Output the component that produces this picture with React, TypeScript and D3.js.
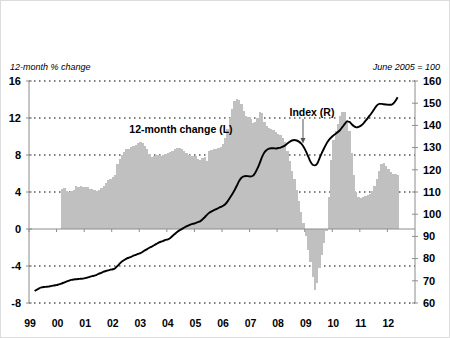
import React from "react";
import * as d3 from "d3";

// 12-month % change (left axis), monthly Mar 2000 .. May 2012
const changeStart = [2000, 2]; // year, month index
const changeValues = [
  4.3, 4.4, 4.1, 4.0, 4.1, 4.2, 4.6, 4.5, 4.6, 4.5,
  4.5, 4.5, 4.3, 4.3, 4.2, 4.1, 4.2, 4.4, 4.6, 5.0, 5.3, 5.4,
  5.6, 5.8, 7.0, 7.6, 8.0, 8.3, 8.6, 8.7, 8.9, 9.0, 9.1, 9.3,
  9.4, 9.3, 9.0, 8.6, 8.1, 7.8, 7.9, 8.0, 8.0, 7.9, 8.0, 8.1,
  8.2, 8.3, 8.4, 8.6, 8.8, 8.8, 8.6, 8.4, 8.2, 8.0, 7.9, 7.9,
  7.9, 7.6, 7.5, 7.7, 7.8, 7.4, 8.4, 8.5, 8.6, 8.7, 8.8, 8.9,
  9.2, 9.8, 10.8, 12.0, 13.0, 13.8, 14.1, 13.9, 13.5, 12.8, 12.2, 12.1,
  11.9, 11.5, 11.6, 12.0, 12.6, 12.5, 11.6, 11.1, 10.9, 10.8, 10.7, 10.5,
  10.3, 10.2, 9.8, 9.4, 8.4, 7.3, 6.3, 5.4, 4.2, 3.0, 1.8, 0.7,
  -0.8, -2.3, -3.6, -5.2, -6.6, -5.8, -4.2, -2.8, -1.5, -0.2, 3.5, 7.5,
  9.6, 10.6, 11.4, 12.2, 12.7, 12.6, 11.8, 10.6, 8.2, 5.8, 4.0, 3.5,
  3.4, 3.5, 3.6, 3.7, 3.8, 4.1, 4.6, 5.4, 6.3, 7.0, 7.1, 6.8,
  6.5, 6.2, 6.0, 5.9, 5.8,
];

// Index, June 2005 = 100 (right axis), monthly Mar 1999 .. May 2012
const indexStart = [1999, 2];
const indexValues = [
  65.4, 66.0, 66.6, 67.0, 67.2, 67.3, 67.4, 67.6, 67.8, 68.0,
  68.2, 68.5, 68.9, 69.3, 69.7, 70.1, 70.4, 70.6, 70.7, 70.8, 70.9, 71.0,
  71.2, 71.5, 71.8, 72.1, 72.3, 72.7, 73.2, 73.6, 74.1, 74.4, 74.7, 75.0,
  75.2, 75.7, 76.6, 77.7, 78.7, 79.4, 80.0, 80.4, 80.8, 81.3, 81.7, 82.1,
  82.5, 83.1, 83.7, 84.3, 84.9, 85.4, 86.0, 86.6, 87.2, 87.6, 88.0, 88.4,
  88.7, 89.3, 90.2, 91.1, 92.0, 92.7, 93.3, 93.9, 94.5, 95.0, 95.4, 95.7,
  96.0, 96.4, 96.8, 97.6, 98.6, 99.7, 100.6, 101.3, 101.8, 102.3, 102.8, 103.3,
  103.8, 104.6, 105.8, 107.4, 109.0, 110.8, 112.8, 115.0, 116.4, 117.0, 117.2, 117.1,
  117.0, 117.3, 118.6, 120.6, 123.0, 125.8, 127.8, 128.9, 129.5, 129.7, 129.7, 129.6,
  129.8, 130.0, 130.4, 131.0, 131.8, 132.6, 133.2, 133.4, 133.2, 132.7, 131.8, 130.4,
  128.4, 126.0, 123.8, 122.3, 122.0, 122.8, 125.2, 127.6, 129.8, 131.8, 133.4, 134.5,
  135.5, 136.2, 137.0, 138.0, 139.3, 140.7, 141.8, 141.6, 140.5, 139.6, 139.1, 139.3,
  139.9, 140.8, 142.0, 143.3, 144.6, 146.0, 147.6, 149.0, 149.7, 149.7, 149.5, 149.4,
  149.3, 149.3, 149.8, 151.0, 152.7,
];

const yearLabels = ["99", "00", "01", "02", "03", "04", "05", "06", "07", "08", "09", "10", "11", "12"];
const leftTicks = [16, 12, 8, 4, 0, -4, -8];
const rightTicks = [160, 150, 140, 130, 120, 110, 100, 90, 80, 70, 60];

const W = 450;
const H = 338;
const FONT = "'Liberation Sans', Arial, sans-serif";

export default function App() {
  const x = d3.scaleTime().domain([new Date(1999, 0, 1), new Date(2013, 0, 1)]).range([29, 415]);
  const yL = d3.scaleLinear().domain([-8, 16]).range([303, 81]);
  const yR = d3.scaleLinear().domain([60, 160]).range([303, 81]);

  const bars = changeValues.map((v, k) => {
    const d0 = new Date(changeStart[0], changeStart[1] + k, 1);
    const d1 = new Date(changeStart[0], changeStart[1] + k + 1, 1);
    return { v, x0: Math.round(x(d0)), x1: Math.round(x(d1)) };
  });

  const linePts = indexValues.map((v, k) => ({
    date: new Date(indexStart[0], indexStart[1] + k, 16),
    v,
  }));
  const line = d3
    .line<{ date: Date; v: number }>()
    .x((d) => x(d.date))
    .y((d) => yR(d.v))
    .curve(d3.curveMonotoneX);

  const left = x.range()[0];
  const right = x.range()[1];
  const years = yearLabels.map((lab, i) => ({ lab, px: x(new Date(1999 + i, 0, 1)) }));

  return (
    <svg width={W} height={H} style={{ position: "absolute", left: 0, top: 0, background: "#fff" }}>
      <rect x={0.5} y={0.5} width={W - 1} height={H - 1} fill="#fff" stroke="#dcdcdc" />
      {/* gridlines */}
      {leftTicks.filter((t) => t !== 0).map((t) => (
        <line key={"g" + t} x1={left} x2={right} y1={yL(t)} y2={yL(t)} stroke="#000" strokeWidth={1} strokeDasharray="1.5,3.5" />
      ))}
      {/* bars */}
      <g shapeRendering="crispEdges">
        {bars.map((b, i) => (
          <rect
            key={"b" + i}
            x={b.x0}
            width={b.x1 - b.x0}
            y={Math.min(yL(b.v), yL(0))}
            height={Math.abs(yL(b.v) - yL(0))}
            fill="#c0c0c0"
          />
        ))}
      </g>
      {/* zero line */}
      <line x1={left} x2={right} y1={yL(0)} y2={yL(0)} stroke="#8c8c8c" strokeWidth={1} />
      {years.map((y, i) => (
        <line key={"xt" + i} x1={y.px} x2={y.px} y1={yL(0)} y2={yL(0) + 3} stroke="#8c8c8c" />
      ))}
      {/* axes */}
      <line x1={left} x2={left} y1={yL(16)} y2={yL(-8)} stroke="#8c8c8c" />
      <line x1={right} x2={right} y1={yR(160)} y2={yR(60)} stroke="#8c8c8c" />
      {leftTicks.map((t) => (
        <line key={"lt" + t} x1={left - 3} x2={left + 3} y1={yL(t)} y2={yL(t)} stroke="#8c8c8c" />
      ))}
      {rightTicks.map((t) => (
        <line key={"rt" + t} x1={right - 3} x2={right + 3} y1={yR(t)} y2={yR(t)} stroke="#8c8c8c" />
      ))}
      {/* index line */}
      <path d={line(linePts) || ""} fill="none" stroke="#000" strokeWidth={1.9} strokeLinejoin="round" />
      {/* tick labels */}
      {leftTicks.map((t) => (
        <text key={"ll" + t} x={21} y={yL(t)} dy="0.35em" textAnchor="end" fontFamily={FONT} fontWeight="bold" fontSize={11}>
          {t}
        </text>
      ))}
      {rightTicks.map((t) => (
        <text key={"rl" + t} x={423} y={yR(t)} dy="0.35em" textAnchor="start" fontFamily={FONT} fontWeight="bold" fontSize={11}>
          {t}
        </text>
      ))}
      {years.map((y, i) => (
        <text key={"yl" + i} x={y.px + 1} y={327} textAnchor="middle" fontFamily={FONT} fontWeight="bold" fontSize={10.5}>
          {y.lab}
        </text>
      ))}
      {/* axis titles */}
      <text x={10} y={70} fontFamily={FONT} fontStyle="italic" fontSize={9}>
        12-month % change
      </text>
      <text x={440} y={70} textAnchor="end" fontFamily={FONT} fontStyle="italic" fontSize={9}>
        June 2005 = 100
      </text>
      {/* annotations */}
      <text x={181} y={133} textAnchor="middle" fontFamily={FONT} fontWeight="bold" fontSize={10.5}>
        12-month change (L)
      </text>
      <text x={312} y={116} textAnchor="middle" fontFamily={FONT} fontWeight="bold" fontSize={10.5}>
        Index (R)
      </text>
      <line x1={303} x2={303} y1={119} y2={140} stroke="#555" strokeWidth={1} />
      <path d="M300.5,138 L305.5,138 L303,143.5 Z" fill="#555" />
    </svg>
  );
}
